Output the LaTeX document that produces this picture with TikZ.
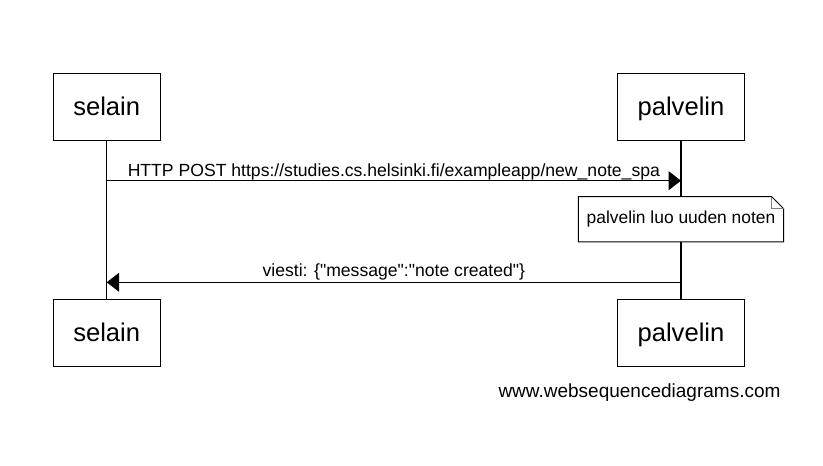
\documentclass[tikz,border=0pt]{standalone}
\usepackage{fontspec}
\setmainfont{Liberation Sans}
\usetikzlibrary{arrows.meta,calc}
\begin{document}
\begin{tikzpicture}[x=1pt,y=-1pt]
\useasboundingbox (0,0) rectangle (823,466);
%stylesofboxes
\tikzstyle{actor}=[rectangle,draw,line width=1pt,minimum height=67pt,
inner xsep=20pt,text height=17pt,text depth=0pt,font=\fontsize{25.6}{30}\selectfont]
\tikzstyle{note}=[rectangle,fill=white,minimum height=45pt,inner xsep=8pt,
font=\fontsize{17.4}{20}\selectfont]
%stylesoflines
\tikzstyle{lifeline}=[line width=1.3pt]
\tikzstyle{msg}=[-{Triangle[length=12.5pt,width=19pt]},line width=1.2pt]
\tikzstyle{msglabel}=[anchor=base,inner sep=0pt,font=\fontsize{17.6}{20}\selectfont]
%placementofnodes
\node[actor] (selainA) at (106.7,106.5) {selain};
\node[actor] (palvelinA) at (681,106.5) {palvelin};
\node[actor] (selainB) at (106.7,333) {selain};
\node[actor] (palvelinB) at (681,333) {palvelin};
\coordinate (pyynto) at (106.7,180.7);
\coordinate (pyyntoP) at (681,180.7);
\coordinate (vastausP) at (681,282.3);
\coordinate (vastaus) at (106.7,282.3);
%lifelines
\draw[lifeline] (selainA) -- (selainB);
\draw[lifeline] (palvelinA) -- (palvelinB);
%note
\node[note] (luo) at (681,219.2) {palvelin luo uuden noten};
\draw[line width=1pt] (luo.north west) -- ($(luo.north east)+(-12,0)$)
-- ($(luo.north east)+(0,12)$) -- (luo.south east) -- (luo.south west) -- cycle;
\draw[line width=0.8pt,gray] ($(luo.north east)+(-12,0)$) |- ($(luo.north east)+(0,12)$);
%placementofarrows
\draw[msg] (pyynto) -- (pyyntoP) node[msglabel,midway,yshift=4.7pt]
{HTTP POST https://studies.cs.helsinki.fi/exampleapp/new\_note\_spa};
\draw[msg] (vastausP) -- (vastaus) node[msglabel,midway,yshift=6.3pt]
{viesti: \{\textquotedbl message\textquotedbl:\textquotedbl note created\textquotedbl\}};
\node[anchor=base east,font=\fontsize{19}{22}\selectfont] (wsd) at (784,397)
{www.websequencediagrams.com};
\end{tikzpicture}
\end{document}
